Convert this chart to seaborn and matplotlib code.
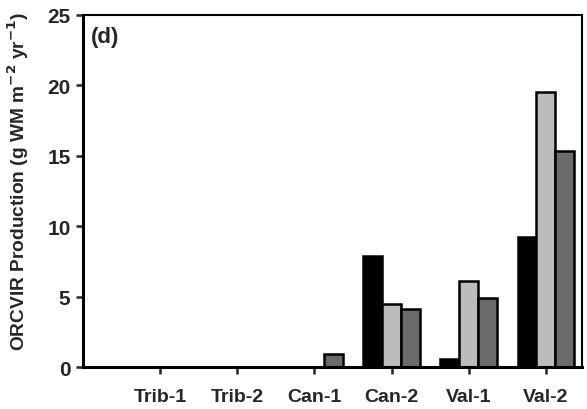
import matplotlib
matplotlib.use("Agg")
import matplotlib.pyplot as plt
import seaborn as sns
import pandas as pd

sites = ["Trib-1", "Trib-2", "Can-1", "Can-2", "Val-1", "Val-2"]
series_names = ["Period 1", "Period 2", "Period 3"]
period1 = [0.0, 0.0, 0.0, 7.88, 0.6, 9.2]
period2 = [0.0, 0.0, 0.0, 4.5, 6.1, 19.5]
period3 = [0.0, 0.0, 0.9, 4.15, 4.9, 15.35]
bar_colors = ["#000000", "#bcbcbc", "#6b6b6b"]

rows = []
for name, vals in zip(series_names, [period1, period2, period3]):
    for s, v in zip(sites, vals):
        rows.append({"site": s, "series": name, "value": v})
df = pd.DataFrame(rows)

sns.set_style("white")
plt.rcParams["font.family"] = ["Liberation Sans", "DejaVu Sans"]
plt.rcParams["font.weight"] = "bold"

fig = plt.figure(figsize=(5.87, 4.10), dpi=100)
ax = fig.add_axes([0.1414, 0.1024, 0.8501, 0.8586])

sns.barplot(data=df, x="site", y="value", hue="series", order=sites,
            hue_order=series_names, palette=bar_colors, width=0.73,
            edgecolor="black", linewidth=1.8, legend=False, ax=ax)

ax.set_xlim(-1.0, 5.47)
ax.set_ylim(0, 25)
ax.set_yticks([0, 5, 10, 15, 20, 25])
ax.set_xlabel("")
ax.set_ylabel(r"ORCVIR Production (g WM m$^{\mathbf{-2}}$ yr$^{\mathbf{-1}}$)",
              fontsize=13.8, fontweight="bold")
ax.yaxis.set_label_coords(-0.104, 0.53)

for side in ["left", "bottom"]:
    ax.spines[side].set_linewidth(2.2)
    ax.spines[side].set_color("black")
for side in ["top", "right"]:
    ax.spines[side].set_linewidth(1.5)
    ax.spines[side].set_color("black")

ax.tick_params(axis="y", direction="out", length=5, width=1.8,
               labelsize=15, pad=4, left=True)
ax.tick_params(axis="x", direction="out", length=5, width=1.8,
               labelsize=14, pad=10, bottom=True)
for lbl in ax.get_xticklabels() + ax.get_yticklabels():
    lbl.set_fontweight("bold")

ax.text(0.016, 0.97, "(d)", transform=ax.transAxes, fontsize=16,
        fontweight="bold", va="top", ha="left")

fig.savefig("out.png", dpi=100)
